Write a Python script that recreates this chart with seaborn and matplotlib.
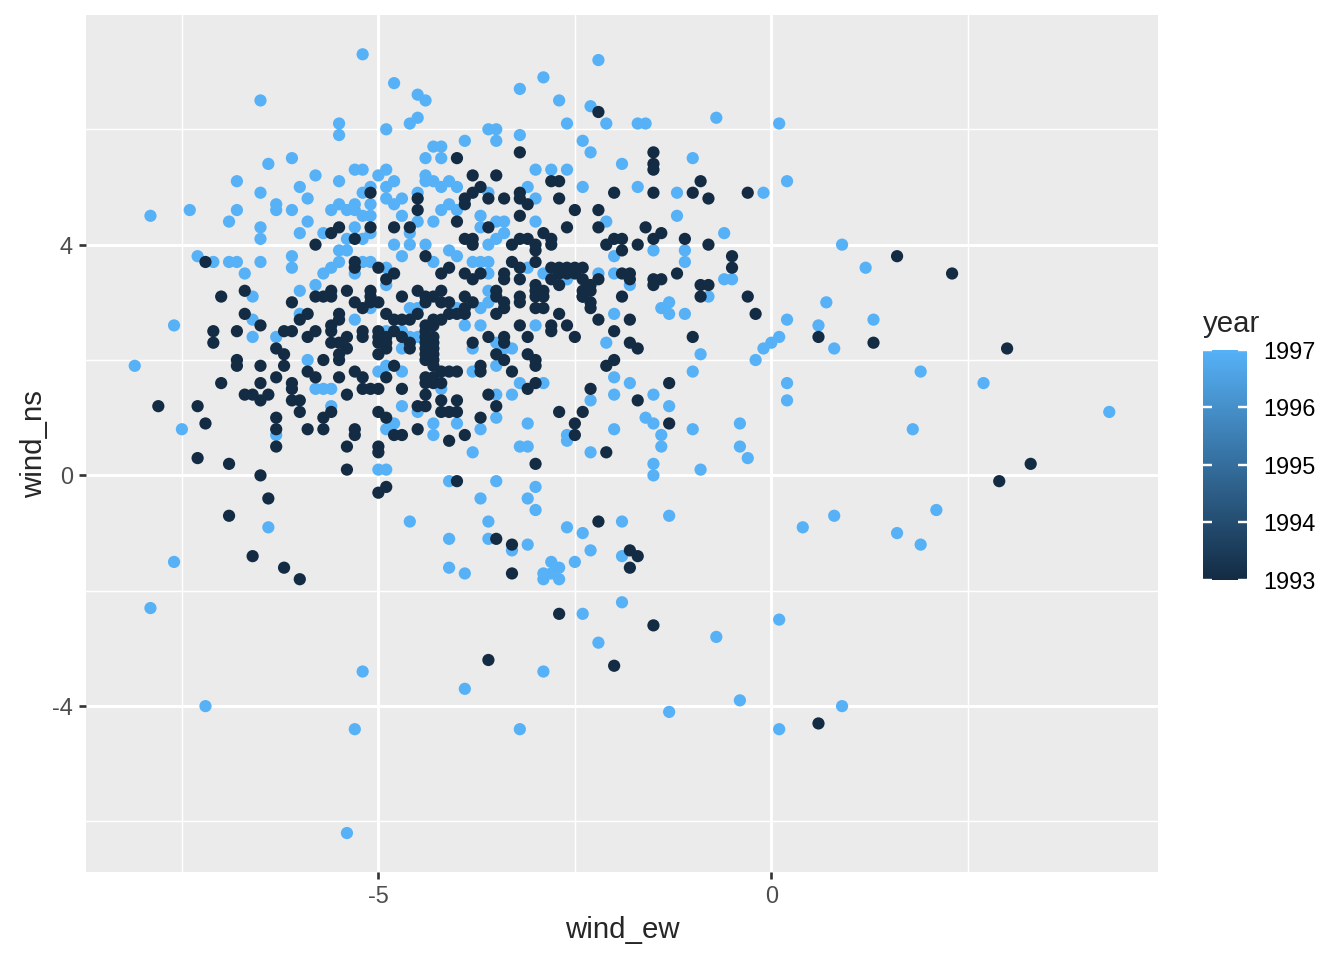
import matplotlib
matplotlib.use("Agg")
import numpy as np
import pandas as pd
import matplotlib.pyplot as plt
import seaborn as sns
from matplotlib.colors import LinearSegmentedColormap, Normalize
from matplotlib.cm import ScalarMappable

# wind readings (wind_ew, wind_ns), one list per year
pts_1993 = [
    (-5.6, 4.2), (-5.5, 4.3), (-5.8, 4.0), (-7.2, 3.7),
    (-3.2, 5.6), (-4.0, 5.5), (-5.1, 4.9), (-3.8, 5.2), (-3.5, 5.2), (-3.7, 5.0), (-3.8, 4.9),
    (-3.9, 4.8), (-3.9, 4.7), (-3.6, 4.8), (-3.4, 4.8), (-3.2, 4.9), (-3.2, 4.8), (-3.1, 4.7),
    (-2.8, 5.1), (-2.7, 5.1), (-2.7, 4.8), (-2.5, 4.6), (-3.2, 4.5), (-2.9, 4.2), (-2.8, 4.1),
    (-2.8, 4.0), (-2.6, 4.3), (-3.0, 4.0), (-3.0, 3.9), (-3.1, 4.1), (-3.2, 4.1), (-3.3, 4.0),
    (-3.3, 3.7), (-3.0, 3.7), (-3.6, 4.3), (-3.8, 4.1), (-3.8, 4.0), (-3.9, 4.1), (-4.0, 4.4),
    (-4.5, 4.6), (-4.5, 4.8), (-4.6, 4.3), (-4.8, 4.3), (-4.4, 3.8), (-5.1, 4.3), (-5.3, 4.1),
    (-5.3, 3.7),
    (-2.2, 6.3), (-1.5, 5.6), (-1.5, 5.4), (-1.5, 5.3), (-0.9, 5.1), (-2.0, 4.9), (-1.5, 4.9),
    (-1.0, 4.9), (-0.8, 4.8), (-0.3, 4.9), (-2.2, 4.6), (-2.2, 4.3), (-1.6, 4.3), (-1.4, 4.2),
    (-1.5, 4.1), (-1.7, 4.0), (-2.0, 4.1), (-1.9, 4.1), (-2.1, 4.0), (-1.9, 3.9), (-1.1, 4.1),
    (-0.8, 4.0), (-0.5, 3.8),
    (-6.7, 3.2), (-7.0, 3.1), (-6.1, 3.0), (-5.8, 3.1), (-5.7, 3.1), (-5.6, 3.1), (-5.6, 3.2),
    (-6.7, 2.8), (-6.5, 2.6), (-5.9, 2.8), (-6.0, 2.7), (-5.5, 2.8), (-7.1, 2.5), (-7.1, 2.3),
    (-6.8, 2.5), (-6.2, 2.5), (-6.1, 2.5), (-5.9, 2.4), (-5.8, 2.5), (-5.6, 2.6), (-5.6, 2.5),
    (-5.6, 2.3), (-5.5, 2.7), (-6.3, 2.2), (-6.2, 2.1), (-6.2, 1.9), (-6.8, 2.0), (-6.8, 1.9),
    (-6.5, 1.9), (-5.7, 2.0), (-5.5, 2.1), (-5.5, 2.0), (-5.9, 1.8), (-5.8, 1.7), (-5.5, 1.7),
    (-6.3, 1.7), (-7.0, 1.6), (-6.5, 1.6), (-6.1, 1.6), (-6.1, 1.5), (-6.7, 1.4), (-6.6, 1.4),
    (-6.5, 1.3), (-6.4, 1.4), (-6.1, 1.3), (-6.0, 1.3), (-6.0, 1.1), (-5.6, 1.1), (-5.7, 1.0),
    (-7.8, 1.2), (-7.3, 1.2), (-7.2, 0.9), (-6.3, 1.0), (-6.3, 0.8), (-6.3, 0.5), (-5.9, 0.8),
    (-5.7, 0.8), (-7.3, 0.3), (-6.9, 0.2), (-6.5, 0.0),
    (-5.3, 3.6), (-5.0, 3.6), (-4.1, 3.6), (-3.2, 3.6), (-2.8, 3.6), (-2.7, 3.6), (-2.6, 3.6),
    (-2.5, 3.6), (-4.8, 3.5), (-4.2, 3.5), (-3.9, 3.5), (-3.7, 3.5), (-3.4, 3.5), (-2.7, 3.5),
    (-2.6, 3.5), (-2.5, 3.5), (-4.9, 3.4), (-3.8, 3.4), (-3.4, 3.4), (-3.2, 3.4), (-2.8, 3.4),
    (-3.0, 3.3), (-2.7, 3.3), (-5.4, 3.2), (-5.1, 3.2), (-4.5, 3.2), (-4.2, 3.2), (-3.5, 3.2),
    (-3.0, 3.2), (-2.9, 3.2), (-5.1, 3.1), (-4.7, 3.1), (-4.4, 3.1), (-4.3, 3.1), (-3.9, 3.1),
    (-3.5, 3.1), (-3.2, 3.1), (-3.0, 3.1), (-2.9, 3.1), (-2.4, 3.1), (-5.3, 3.0), (-5.0, 3.0),
    (-5.1, 3.0), (-4.4, 3.0), (-4.2, 3.0), (-4.1, 3.0), (-3.8, 3.0), (-3.4, 3.0), (-3.2, 3.0),
    (-5.2, 2.9), (-3.9, 2.9), (-3.4, 2.9), (-3.0, 2.9), (-2.9, 2.9), (-4.9, 2.8), (-4.5, 2.8),
    (-4.1, 2.8), (-4.0, 2.8), (-3.9, 2.8), (-3.5, 2.8), (-2.7, 2.8), (-4.8, 2.7), (-4.7, 2.7),
    (-4.6, 2.7), (-4.2, 2.7), (-4.3, 2.7), (-4.4, 2.6), (-4.3, 2.6), (-3.2, 2.6), (-2.8, 2.6),
    (-2.6, 2.6), (-5.2, 2.5), (-5.0, 2.5), (-4.8, 2.5), (-4.4, 2.5), (-2.8, 2.5), (-5.4, 2.4),
    (-5.2, 2.4), (-5.0, 2.4), (-4.9, 2.4), (-4.7, 2.4), (-4.4, 2.4), (-4.3, 2.4), (-3.6, 2.4),
    (-3.4, 2.4), (-3.1, 2.4), (-2.5, 2.4), (-5.5, 2.3), (-5.0, 2.3), (-4.9, 2.3), (-4.6, 2.3),
    (-4.4, 2.3), (-4.3, 2.3), (-3.8, 2.3), (-3.4, 2.3), (-5.4, 2.2), (-4.9, 2.2), (-4.6, 2.2),
    (-4.4, 2.2), (-4.3, 2.2), (-5.0, 2.1), (-4.4, 2.1), (-4.3, 2.1), (-3.5, 2.1), (-3.1, 2.1),
    (-4.4, 2.0), (-4.3, 2.0), (-3.4, 2.0), (-3.0, 2.0), (-4.8, 1.9), (-4.3, 1.9), (-3.7, 1.9),
    (-3.0, 1.9), (-5.3, 1.8), (-4.2, 1.8), (-4.1, 1.8), (-4.0, 1.8), (-3.7, 1.8), (-3.3, 1.8),
    (-5.2, 1.7), (-4.9, 1.7), (-4.4, 1.7), (-4.3, 1.7), (-4.4, 1.6), (-4.2, 1.6), (-4.3, 1.6),
    (-3.0, 1.6), (-5.2, 1.5), (-5.1, 1.5), (-5.0, 1.5), (-4.7, 1.5), (-3.1, 1.5), (-5.4, 1.4),
    (-4.4, 1.4), (-3.6, 1.4), (-4.2, 1.3), (-4.0, 1.3), (-4.5, 1.2), (-4.4, 1.2), (-3.5, 1.2),
    (-5.0, 1.1), (-4.2, 1.1), (-4.1, 1.1), (-4.0, 1.1), (-2.7, 1.1), (-4.9, 1.0), (-3.7, 1.0),
    (-2.5, 0.9), (-5.3, 0.8), (-4.5, 0.8), (-5.3, 0.7), (-4.8, 0.7), (-4.7, 0.7), (-3.9, 0.7),
    (-2.5, 0.7), (-4.1, 0.6), (-5.4, 0.5), (-5.0, 0.5), (-5.0, 0.4), (-3.0, 0.2), (-5.4, 0.1),
    (-4.0, -0.1),
    (-2.4, 3.6), (-2.2, 3.4), (-2.4, 3.4), (-2.3, 3.3), (-2.4, 3.2), (-2.3, 3.2), (-2.3, 3.0),
    (-2.3, 2.9), (-2.4, 3.1), (-1.9, 3.5), (-1.8, 3.5), (-1.8, 3.4), (-1.5, 3.4), (-1.4, 3.4),
    (-1.5, 3.3), (-1.2, 3.5), (-0.5, 3.6), (-0.9, 3.3), (-0.8, 3.3), (-0.9, 3.1), (-0.3, 3.1),
    (-1.9, 3.1), (-0.2, 2.8), (0.6, 2.4), (-2.2, 2.7), (-1.8, 2.7), (-2.0, 2.5), (-1.8, 2.3),
    (-1.7, 2.2), (-1.0, 2.4), (-2.0, 2.0), (-2.1, 1.9), (-1.3, 1.6), (-2.3, 1.5), (-1.7, 1.3),
    (-2.4, 1.1), (-1.3, 0.9), (-2.1, 0.4),
    (-6.4, -0.4), (-6.9, -0.7), (-6.6, -1.4), (-6.2, -1.6), (-6.0, -1.8),
    (-4.9, -0.2), (-5.0, -0.3), (-3.5, -1.1), (-3.3, -1.2), (-3.3, -1.7), (-2.7, -2.4), (-3.6, -3.2),
    (-2.2, -0.8), (-1.8, -1.3), (-1.7, -1.4), (-1.8, -1.6), (-1.5, -2.6), (-2.0, -3.3),
    (1.6, 3.8), (2.3, 3.5), (1.3, 2.3), (3.0, 2.2), (3.3, 0.2), (2.9, -0.1), (0.6, -4.3),
]

pts_1997 = [
    (-6.5, 6.5), (-5.5, 6.1), (-5.5, 5.9), (-6.4, 5.4), (-6.1, 5.5), (-5.8, 5.2), (-5.5, 5.1),
    (-6.8, 5.1), (-6.5, 4.9), (-6.0, 5.0), (-5.9, 4.8), (-6.3, 4.7), (-6.3, 4.6), (-6.1, 4.6),
    (-5.6, 4.6), (-5.5, 4.7), (-7.9, 4.5), (-7.4, 4.6), (-6.8, 4.6), (-6.9, 4.4), (-6.5, 4.3),
    (-6.5, 4.1), (-5.9, 4.4), (-6.0, 4.2), (-5.7, 4.2), (-5.5, 3.9), (-7.3, 3.8), (-7.1, 3.7),
    (-6.9, 3.7), (-6.8, 3.7), (-6.5, 3.7), (-6.1, 3.8),
    (-5.2, 7.3), (-4.8, 6.8), (-4.5, 6.6), (-4.4, 6.5), (-4.5, 6.2), (-4.6, 6.1), (-4.9, 6.0),
    (-3.2, 6.7), (-2.9, 6.9), (-2.7, 6.5), (-2.6, 6.1), (-3.6, 6.0), (-3.5, 6.0), (-3.5, 5.8),
    (-3.2, 5.9), (-3.9, 5.8), (-2.4, 5.8), (-4.3, 5.7), (-4.2, 5.7), (-4.4, 5.5), (-4.2, 5.5),
    (-5.3, 5.3), (-5.2, 5.3), (-4.9, 5.3), (-5.0, 5.2), (-4.8, 5.1), (-4.9, 5.0), (-5.1, 5.0),
    (-5.2, 4.9), (-4.4, 5.2), (-4.4, 5.1), (-4.3, 5.1), (-4.2, 5.0), (-4.1, 5.1), (-4.0, 5.0),
    (-3.6, 4.9), (-3.1, 5.0), (-3.0, 5.3), (-2.8, 5.3), (-2.6, 5.3), (-3.0, 4.8), (-3.0, 4.4),
    (-3.5, 4.1), (-3.6, 4.0), (-3.4, 4.2), (-3.4, 4.4), (-3.5, 4.4), (-3.7, 4.5), (-3.7, 4.3),
    (-4.0, 4.6), (-4.1, 4.7), (-4.2, 4.6), (-4.3, 4.4), (-4.5, 4.4), (-4.5, 4.9), (-4.7, 4.8),
    (-4.8, 4.7), (-4.9, 4.8), (-4.7, 4.5), (-4.6, 4.2), (-4.6, 4.0), (-4.8, 4.0), (-4.4, 4.0),
    (-4.7, 3.8), (-4.1, 3.9), (-4.0, 3.8), (-5.1, 4.7), (-5.1, 4.5), (-5.3, 4.7), (-5.3, 4.6),
    (-5.4, 4.6), (-5.2, 4.5), (-5.3, 4.3), (-5.2, 4.1), (-5.1, 4.2), (-5.4, 4.1), (-5.4, 3.9),
    (-5.1, 3.7),
    (-2.2, 7.2), (-2.3, 6.4), (-2.1, 6.1), (-1.7, 6.1), (-1.6, 6.1), (-0.7, 6.2), (0.1, 6.1),
    (-2.3, 5.6), (-1.9, 5.4), (-1.0, 5.5), (-2.4, 5.0), (-1.7, 5.0), (-1.2, 4.9), (-0.1, 4.9),
    (0.2, 5.1), (-2.1, 4.4), (-1.2, 4.5), (-2.0, 3.8), (-1.5, 3.9), (-1.1, 3.9), (-1.1, 3.7),
    (-0.6, 4.2),
    (-6.1, 3.6), (-6.7, 3.5), (-5.7, 3.5), (-5.6, 3.6), (-5.5, 3.7), (-5.8, 3.3), (-6.0, 3.2),
    (-6.6, 3.1), (-6.6, 2.7), (-6.0, 2.8), (-7.6, 2.6), (-6.6, 2.4), (-6.3, 2.4), (-8.1, 1.9),
    (-5.9, 2.0), (-5.8, 1.5), (-5.7, 1.5), (-5.6, 1.5), (-5.6, 1.2), (-7.5, 0.8), (-6.3, 0.7),
    (-5.2, 3.7), (-4.3, 3.7), (-3.8, 3.7), (-3.7, 3.7), (-3.6, 3.7), (-4.9, 3.6), (-3.1, 3.6),
    (-5.3, 3.5), (-3.6, 3.5), (-2.9, 3.5), (-2.6, 3.4), (-4.9, 3.3), (-3.6, 3.2), (-3.6, 3.0),
    (-5.1, 2.9), (-4.6, 2.9), (-4.5, 2.9), (-4.0, 2.9), (-3.7, 2.9), (-5.3, 2.7), (-3.9, 2.6),
    (-3.7, 2.6), (-3.0, 2.6), (-4.9, 2.5), (-4.7, 2.5), (-4.6, 2.4), (-4.5, 2.4), (-3.5, 2.3),
    (-4.7, 2.2), (-3.8, 2.2), (-3.4, 2.2), (-3.3, 2.2), (-4.9, 1.9), (-3.5, 1.9), (-5.0, 1.8),
    (-4.7, 1.8), (-3.8, 1.8), (-3.2, 1.6), (-2.9, 1.6), (-4.2, 1.5), (-3.5, 1.4), (-3.3, 1.4),
    (-4.7, 1.2), (-4.5, 1.1), (-3.5, 1.0), (-4.8, 0.9), (-4.3, 0.9), (-4.0, 0.9), (-3.1, 0.9),
    (-4.9, 0.8), (-3.7, 0.8), (-4.3, 0.7), (-2.6, 0.7), (-2.6, 0.6), (-3.2, 0.5), (-3.1, 0.5),
    (-3.8, 0.4), (-5.0, 0.1), (-4.9, 0.1), (-4.1, -0.1), (-3.5, -0.1),
    (-2.2, 3.5), (-2.0, 3.5), (-1.8, 3.3), (-0.6, 3.4), (-0.5, 3.4), (-0.8, 3.1), (-1.3, 3.0),
    (-1.4, 2.9), (-1.3, 2.8), (-1.1, 2.8), (-2.0, 2.8), (0.2, 2.7), (0.6, 2.6), (-2.1, 2.3),
    (0.1, 2.4), (0.0, 2.3), (-0.1, 2.2), (-0.2, 2.0), (-0.9, 2.1), (-1.0, 1.8), (-2.0, 1.7),
    (-1.8, 1.6), (0.2, 1.6), (0.2, 1.3), (-2.3, 1.3), (-2.0, 1.4), (-1.5, 1.4), (-1.3, 1.2),
    (-1.6, 1.0), (-1.5, 0.9), (-2.0, 0.8), (-1.4, 0.7), (-1.4, 0.5), (-1.0, 0.8), (-0.4, 0.9),
    (-0.4, 0.5), (-0.3, 0.3), (-2.3, 0.4), (-1.5, 0.2), (-1.5, 0.0), (-0.9, 0.1),
    (-6.4, -0.9), (-7.6, -1.5), (-7.9, -2.3), (-7.2, -4.0),
    (-3.7, -0.4), (-3.0, -0.2), (-3.1, -0.4), (-3.0, -0.6), (-4.6, -0.8), (-3.6, -0.8),
    (-4.1, -1.1), (-3.6, -1.1), (-3.3, -1.3), (-3.1, -1.2), (-2.6, -0.9), (-4.1, -1.6),
    (-3.9, -1.7), (-2.8, -1.5), (-2.7, -1.6), (-2.9, -1.7), (-2.8, -1.7), (-2.9, -1.8),
    (-2.7, -1.8), (-2.5, -1.5), (-5.2, -3.4), (-2.9, -3.4), (-3.9, -3.7),
    (-1.9, -0.8), (-1.3, -0.7), (-2.4, -1.0), (-2.3, -1.3), (-1.9, -1.4), (-1.9, -2.2),
    (-2.4, -2.4), (0.1, -2.5), (-0.7, -2.8), (-2.2, -2.9), (-0.4, -3.9), (-1.3, -4.1),
    (0.9, 4.0), (1.2, 3.6), (0.7, 3.0), (1.3, 2.7), (0.8, 2.2), (1.9, 1.8), (2.7, 1.6),
    (4.3, 1.1), (1.8, 0.8), (2.1, -0.6), (0.8, -0.7), (0.4, -0.9), (1.6, -1.0), (1.9, -1.2),
    (-5.3, -4.4), (-3.2, -4.4), (0.1, -4.4), (0.9, -4.0), (-5.4, -6.2),
]

years = [1997, 1993]
x_breaks = [-5, 0]
y_breaks = [-4, 0, 4]
cbar_breaks = [1993, 1994, 1995, 1996, 1997]

frames = []
for yr, pts in zip(years, [pts_1997, pts_1993]):
    d = pd.DataFrame(pts, columns=["wind_ew", "wind_ns"])
    d["year"] = yr
    frames.append(d)
df = pd.concat(frames, ignore_index=True)

sns.set_style("darkgrid", {"axes.facecolor": "#EBEBEB", "grid.color": "white",
                           "axes.edgecolor": "none"})
plt.rcParams["font.family"] = ["Liberation Sans", "DejaVu Sans"]
plt.rcParams["axes.unicode_minus"] = False

cmap = LinearSegmentedColormap.from_list("gg", ["#132B43", "#56B1F7"])

fig = plt.figure(figsize=(7, 5), dpi=192)
ax = fig.add_axes([0.064, 0.0917, 0.7976, 0.8923])
sns.scatterplot(data=df, x="wind_ew", y="wind_ns", hue="year", palette=cmap,
                hue_norm=(1993, 1997), s=21, linewidth=0, legend=False, ax=ax)

# ggplot-style 5% expansion
xr = df["wind_ew"].max() - df["wind_ew"].min()
yr_ = df["wind_ns"].max() - df["wind_ns"].min()
ax.set_xlim(df["wind_ew"].min() - 0.05 * xr, df["wind_ew"].max() + 0.05 * xr)
ax.set_ylim(df["wind_ns"].min() - 0.05 * yr_, df["wind_ns"].max() + 0.05 * yr_)

ax.set_xticks(x_breaks)
ax.set_yticks(y_breaks)
ax.set_xticks([-7.5, -2.5, 2.5], minor=True)
ax.set_yticks([-6, -2, 2, 6], minor=True)
ax.grid(which="major", color="white", linewidth=1.1)
ax.grid(which="minor", color="white", linewidth=0.55)
ax.set_axisbelow(True)
for s in ax.spines.values():
    s.set_visible(False)
ax.tick_params(which="major", length=2.75, width=1.0, color="#333333",
               labelsize=8.8, labelcolor="#4D4D4D", pad=2.2, bottom=True, left=True)
ax.tick_params(which="minor", length=0)
ax.set_xlabel("wind_ew", fontsize=11, labelpad=3)
ax.set_ylabel("wind_ns", fontsize=11, labelpad=1.5)

# continuous colour legend
cax = fig.add_axes([0.895, 0.396, 0.0327, 0.2396])
sm = ScalarMappable(norm=Normalize(1993, 1997), cmap=cmap)
cbar = fig.colorbar(sm, cax=cax, ticks=cbar_breaks)
cbar.outline.set_visible(False)
cbar.ax.tick_params(length=0, labelsize=8.8, labelcolor="black", pad=6)
cbar.ax.set_yticklabels([str(b) for b in cbar_breaks])
# white tick marks inside the bar, ggplot style
cax.hlines(cbar_breaks, 0, 0.2, color="white", linewidth=0.9, clip_on=False, zorder=5)
cax.hlines(cbar_breaks, 0.8, 1, color="white", linewidth=0.9, clip_on=False, zorder=5)
fig.text(0.895, 0.6625, "year", fontsize=11, ha="left", va="center")

fig.savefig("out.png", dpi=192)
